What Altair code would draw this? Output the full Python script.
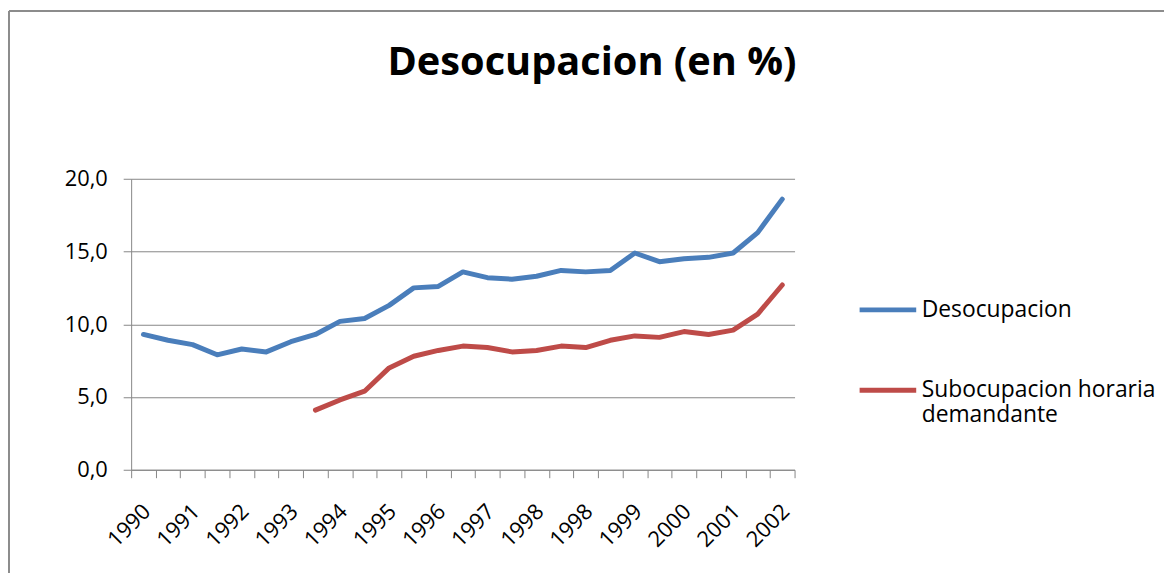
import altair as alt
import pandas as pd

periods = ["1990-05", "1990-10", "1991-05", "1991-10", "1992-05", "1992-10",
           "1993-05", "1993-10", "1994-05", "1994-10", "1995-05", "1995-10",
           "1996-05", "1996-10", "1997-05", "1997-10", "1998-05", "1998-08",
           "1998-10", "1999-05", "1999-08", "1999-10", "2000-05", "2000-10",
           "2001-05", "2001-10", "2002-05"]
tick_labels = ["1990", "", "1991", "", "1992", "", "1993", "", "1994", "",
               "1995", "", "1996", "", "1997", "", "1998", "", "1998", "",
               "1999", "", "2000", "", "2001", "", "2002"]
series_names = ["Desocupacion", "Subocupacion horaria demandante"]
desocupacion = [9.3, 8.9, 8.6, 7.9, 8.3, 8.1, 8.8, 9.3, 10.2, 10.4, 11.3, 12.5,
                12.6, 13.6, 13.2, 13.1, 13.3, 13.7, 13.6, 13.7, 14.9, 14.3,
                14.5, 14.6, 14.9, 16.3, 18.6]
subocupacion = [None, None, None, None, None, None, None, 4.1, 4.8, 5.4, 7.0,
                7.8, 8.2, 8.5, 8.4, 8.1, 8.2, 8.5, 8.4, 8.9, 9.2, 9.1, 9.5,
                9.3, 9.6, 10.7, 12.7]
colors = ["#4A7EBB", "#BE4B48"]

rows = []
for name, vals in zip(series_names, [desocupacion, subocupacion]):
    for i, (p, v) in enumerate(zip(periods, vals)):
        if v is not None:
            rows.append({"idx": i, "period": p, "serie": name, "valor": v})
df = pd.DataFrame(rows)

FONT = "Open Sans"
GRAY = "#868686"
label_js = "[" + ",".join("'" + t + "'" for t in tick_labels) + "]"

lines = alt.Chart(df).mark_line(
    strokeWidth=5, strokeCap="round", strokeJoin="round"
).encode(
    x=alt.X("idx:O", bandPosition=0.5,
            scale=alt.Scale(type="band", domain=list(range(len(periods))),
                            paddingInner=0, paddingOuter=0),
            axis=alt.Axis(title=None, labelAngle=-45, labelAlign="right",
                          labelBaseline="top", labelPadding=23,
                          labelOffset=-4,
                          labelExpr=label_js + "[datum.value]",
                          tickBand="extent", tickSize=8, tickColor=GRAY,
                          domainColor=GRAY, grid=False, labelFontSize=22,
                          labelFont=FONT, labelColor="#000000",
                          labelOverlap=False)),
    y=alt.Y("valor:Q",
            scale=alt.Scale(domain=[0, 20], nice=False, zero=True),
            axis=alt.Axis(title=None, values=[0, 5, 10, 15, 20],
                          labelExpr="replace(format(datum.value, '.1f'), '.', ',')",
                          tickSize=8, tickColor=GRAY, domainColor=GRAY,
                          gridColor=GRAY, labelPadding=16, labelFontSize=22,
                          labelFont=FONT, labelColor="#000000")),
    color=alt.Color("serie:N",
                    scale=alt.Scale(domain=series_names, range=colors),
                    legend=alt.Legend(
                        title=None, orient="none", legendX=731, legendY=101,
                        symbolType="stroke", symbolSize=3249,
                        symbolStrokeWidth=5, labelFont=FONT,
                        labelFontSize=23, labelColor="#000000",
                        labelOffset=3, rowPadding=38, padding=0,
                        labelLimit=400,
                        labelExpr="datum.label == 'Subocupacion horaria demandante' ? ['Subocupacion horaria', 'demandante'] : datum.label")),
)

border = alt.Chart(alt.Data(values=[{}])).mark_rule(
    color="#8C8C8C", strokeWidth=2
)
border_top = border.encode(x=alt.value(-123), x2=alt.value(1100),
                           y=alt.value(-169))
border_left = border.encode(x=alt.value(-123), y=alt.value(-169),
                            y2=alt.value(500))

chart = alt.layer(lines, border_top, border_left).properties(
    width=668, height=293,
    autosize=alt.AutoSizeParams(type="none"),
    padding={"left": 124, "top": 170, "right": 372, "bottom": 102},
    title=alt.TitleParams("Desocupacion (en %)", font=FONT, fontSize=40,
                          fontWeight="bold", color="#000000", anchor="middle",
                          frame="group", dx=130, offset=-74),
).configure_view(stroke=None)

chart.save("out.html", embed_options={"renderer": "svg", "actions": False})
